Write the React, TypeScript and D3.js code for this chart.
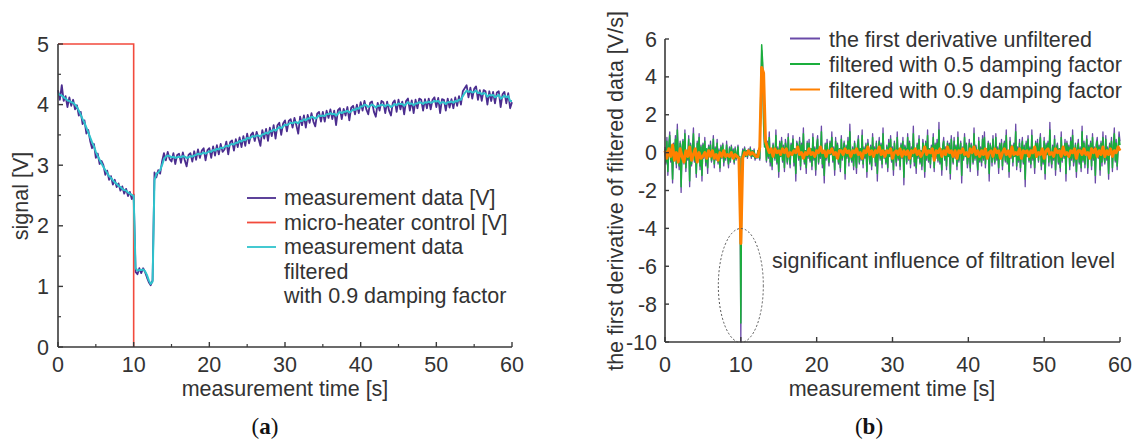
import React from 'react';
import * as d3 from 'd3';

// ---------- DATA ----------
const SIGNAL_STEP = 0.25; // s between samples, panel (a)
const DERIV_STEP_FINE = 0.125; // s between samples, unfiltered / 0.5 damping
const DERIV_STEP = 0.25; // s between samples, 0.9 damping

// panel (a): measurement data [V], one row per second (0..59) + 60 s
const signalRaw = [
  4.24, 4.08, 4.32, 4.06,
  4.14, 3.96, 4.12, 3.98,
  4.08, 3.92, 3.99, 3.82,
  3.88, 3.68, 3.74, 3.52,
  3.58, 3.40, 3.28, 3.35,
  3.12, 3.19, 3.02, 3.07,
  3.00, 2.84, 2.91, 2.76,
  2.82, 2.68, 2.76, 2.64,
  2.70, 2.58, 2.65, 2.53,
  2.61, 2.49, 2.56, 2.44,
  2.52, 1.24, 1.20, 1.30,
  1.22, 1.30, 1.24, 1.15,
  1.07, 1.02, 1.10, 2.88,
  2.80, 2.92, 2.86, 3.06,
  3.20, 3.08, 3.22, 3.10,
  3.06, 3.20, 3.02, 3.17,
  3.19, 3.04, 3.21, 3.08,
  2.98, 3.17, 3.20, 3.06,
  3.23, 3.09, 3.26, 3.12,
  3.24, 3.28, 3.08, 3.25,
  3.28, 3.12, 3.31, 3.16,
  3.33, 3.18, 3.35, 3.22,
  3.26, 3.39, 3.18, 3.38,
  3.41, 3.24, 3.43, 3.30,
  3.46, 3.30, 3.48, 3.32,
  3.52, 3.36, 3.50, 3.54,
  3.40, 3.55, 3.44, 3.32,
  3.58, 3.44, 3.60, 3.40,
  3.62, 3.48, 3.66, 3.44,
  3.66, 3.70, 3.50, 3.69,
  3.74, 3.56, 3.73, 3.76,
  3.62, 3.78, 3.66, 3.52,
  3.80, 3.66, 3.82, 3.62,
  3.83, 3.70, 3.86, 3.72,
  3.64, 3.85, 3.88, 3.72,
  3.88, 3.72, 3.90, 3.78,
  3.92, 3.76, 3.90, 3.66,
  3.91, 3.94, 3.76, 3.93,
  3.82, 3.96, 3.74, 3.95,
  3.98, 3.84, 4.00, 3.86,
  4.04, 3.90, 4.06, 3.92,
  3.84, 4.03, 4.05, 3.88,
  3.80, 4.03, 3.90, 4.06,
  4.04, 3.86, 4.05, 3.90,
  3.82, 4.03, 4.07, 3.88,
  4.08, 3.92, 4.05, 3.84,
  4.06, 4.10, 3.90, 4.07,
  3.86, 4.08, 3.94, 4.10,
  4.08, 3.90, 4.09, 3.94,
  4.10, 3.92, 4.08, 4.12,
  3.96, 4.11, 3.86, 4.09,
  4.08, 3.90, 4.10, 3.95,
  4.09, 3.94, 4.12, 3.98,
  4.14, 4.00, 4.22, 4.27,
  4.32, 4.12, 4.28, 4.10,
  4.26, 4.30, 4.08, 4.24,
  4.06, 4.24, 4.22, 4.00,
  4.22, 4.06, 4.21, 4.02,
  4.20, 4.22, 3.96, 4.17,
  4.21, 4.02, 4.19, 3.94,
  4.04,
];

// panel (a): measurement data filtered with 0.9 damping factor
const signalFiltered = [
  4.18, 4.16, 4.15, 4.12,
  4.10, 4.07, 4.06, 4.04,
  4.03, 4.00, 3.96, 3.90,
  3.83, 3.76, 3.70, 3.62,
  3.54, 3.46, 3.38, 3.31,
  3.22, 3.15, 3.09, 3.03,
  2.97, 2.92, 2.87, 2.82,
  2.79, 2.75, 2.72, 2.69,
  2.66, 2.64, 2.61, 2.59,
  2.58, 2.55, 2.53, 2.51,
  2.49, 1.30, 1.26, 1.27,
  1.27, 1.28, 1.25, 1.19,
  1.10, 1.04, 1.08, 2.75,
  2.86, 2.88, 2.92, 3.00,
  3.10, 3.14, 3.16, 3.15,
  3.13, 3.14, 3.12, 3.13,
  3.14, 3.13, 3.15, 3.14,
  3.12, 3.13, 3.15, 3.14,
  3.16, 3.17, 3.19, 3.18,
  3.19, 3.21, 3.19, 3.21,
  3.23, 3.22, 3.25, 3.24,
  3.27, 3.26, 3.29, 3.28,
  3.30, 3.32, 3.31, 3.34,
  3.35, 3.34, 3.37, 3.37,
  3.40, 3.39, 3.42, 3.41,
  3.45, 3.44, 3.46, 3.48,
  3.47, 3.49, 3.49, 3.47,
  3.51, 3.51, 3.54, 3.52,
  3.56, 3.56, 3.59, 3.57,
  3.60, 3.63, 3.61, 3.64,
  3.67, 3.66, 3.68, 3.70,
  3.69, 3.71, 3.71, 3.69,
  3.73, 3.73, 3.76, 3.74,
  3.77, 3.77, 3.80, 3.79,
  3.77, 3.79, 3.82, 3.81,
  3.82, 3.81, 3.84, 3.84,
  3.86, 3.84, 3.85, 3.82,
  3.85, 3.88, 3.86, 3.88,
  3.88, 3.90, 3.87, 3.89,
  3.92, 3.91, 3.94, 3.93,
  3.97, 3.97, 4.00, 3.99,
  3.96, 3.98, 4.00, 3.98,
  3.95, 3.98, 3.98, 4.00,
  3.99, 3.97, 4.00, 3.99,
  3.96, 3.98, 4.01, 3.99,
  4.02, 4.01, 4.01, 3.98,
  4.01, 4.04, 4.01, 4.02,
  3.99, 4.02, 4.02, 4.04,
  4.03, 4.01, 4.04, 4.03,
  4.05, 4.03, 4.04, 4.06,
  4.05, 4.06, 4.02, 4.04,
  4.04, 4.01, 4.04, 4.04,
  4.05, 4.03, 4.06, 4.05,
  4.08, 4.08, 4.14, 4.19,
  4.23, 4.21, 4.22, 4.20,
  4.21, 4.23, 4.19, 4.20,
  4.17, 4.19, 4.18, 4.13,
  4.16, 4.15, 4.16, 4.12,
  4.14, 4.16, 4.10, 4.12,
  4.15, 4.12, 4.14, 4.06,
  4.06,
];

// panel (a): micro-heater control [V]
const heaterTime = [0, 10, 10];
const heaterValue = [5, 5, 0];

// panel (b): first derivative unfiltered [V/s], 8 samples per second
const derivUnfiltered = [
  0.3, -0.6, 0.8, -1.2, 0.4, 1.1, -0.5, 0.2,
  -1.6, 0.5, -0.3, 0.9, -0.8, 1.5, -0.2, -0.9,
  0.6, -2.1, 0.3, 0.7, -0.6, 1.2, -1.0, 0.1,
  -0.4, 0.9, -1.8, 0.5, -0.7, 0.3, 1.3, -0.5,
  0.2, -1.3, 0.6, -0.4, 1.0, -0.9, 0.4, -1.5,
  0.5, -0.3, 0.8, -0.7, 0.2, -1.1, 0.4, -0.2,
  0.6, -0.5, -0.2, 0.9, -0.8, 0.3, -0.4, 0.7,
  -0.6, 0.2, -1.0, 0.4, -0.3, 0.5, -0.7, 0.1,
  -0.4, 0.6, -0.2, -0.8, 0.3, -0.5, 0.4, -0.3,
  0.2, -0.6, 0.3, -0.4, -0.1, 0.4, -0.7, -0.3,
  -10, -0.4, 0.2, -0.1, 0.3, -0.2, 0.1, -0.3,
  0.2, -0.1, 0.3, -0.3, 0.1, -0.2, 0.2, -0.4,
  -0.1, -0.3, 0.1, -0.2, -0.4, 2.6, 5.4, 4.6,
  1.8, 0.4, 0.9, -0.5, 0.6, -0.3, 1.1, -0.7,
  0.2, -0.9, 0.5, 0.1, -0.4, 1.2, -0.6, 0.3,
  -1.3, 0.6, -0.2, 0.8, -0.5, 0.4, -1.0, 0.7,
  0.3, -0.6, 1.0, -0.3, -0.8, 0.5, -0.1, 0.9,
  -0.7, 0.2, -1.5, 0.6, 0.4, -0.4, 0.8, -0.9,
  0.5, -0.2, 1.3, -0.6, 0.1, -1.1, 0.6, -0.3,
  0.7, -0.5, 0.2, -0.9, 1.0, -0.4, 0.3, -1.2,
  0.4, 0.9, -0.6, 0.2, -0.3, 1.4, -0.8, 0.1,
  -1.6, 0.5, -0.4, 0.7, -0.2, -0.7, 0.6, -0.1,
  1.1, -0.5, 0.3, -1.2, 0.8, -0.3, 0.5, -0.6,
  0.2, -1.0, 0.9, -0.4, 0.1, 0.6, -1.4, 0.4,
  -0.3, 0.8, -0.7, 1.5, -0.2, -0.5, 0.3, -0.9,
  0.6, -0.2, -1.1, 0.4, 0.9, -0.6, 0.2, -0.4,
  1.2, -0.8, 0.3, -0.3, 0.5, -1.3, 0.7, 0.1,
  -0.6, 0.4, -0.9, 1.0, -0.2, 0.3, -0.7, 0.6,
  -1.5, 0.2, 0.8, -0.4, 0.5, -0.8, 1.3, -0.3,
  0.1, -0.6, 0.4, -1.0, 0.7, -0.2, 0.9, -0.5,
  0.3, -1.2, 0.6, -0.1, -0.7, 1.1, -0.4, 0.2,
  -0.9, 0.5, -0.3, 0.8, -1.7, 0.4, 0.2, -0.6,
  1.0, -0.4, 0.6, -0.8, 0.3, -0.2, 1.4, -0.7,
  0.2, -1.1, 0.5, -0.3, 0.9, -0.6, 0.1, -0.9,
  0.7, 0.3, -1.3, 0.6, -0.4, 1.2, -0.5, 0.2,
  -0.8, 0.4, -0.2, 1.0, -1.0, 0.5, -0.3, 0.7,
  -0.5, 1.6, -0.6, 0.2, -1.2, 0.4, 0.8, -0.4,
  0.3, -0.9, 0.6, -0.2, 0.5, -1.4, 0.9, -0.1,
  -0.6, 0.8, -0.3, 0.4, -0.9, 1.1, -0.5, 0.2,
  0.6, -1.6, 0.3, -0.4, 1.0, -0.2, 0.5, -0.8,
  -0.3, 0.7, -1.0, 0.5, 0.2, -0.6, 1.3, -0.4,
  0.4, -0.2, -1.2, 0.8, -0.5, 0.3, -0.7, 0.9,
  -0.4, 1.1, -0.8, 0.2, -0.3, 0.6, -1.5, 0.5,
  0.2, -0.7, 0.9, -0.2, -0.6, 1.0, -0.4, 0.3,
  -1.1, 0.5, -0.2, 0.7, -0.9, 0.3, 0.6, -0.5,
  1.2, -0.6, 0.1, -1.3, 0.8, -0.3, 0.4, -0.7,
  0.5, -0.2, 1.5, -0.9, 0.3, -0.5, 0.7, -1.0,
  0.2, 0.8, -0.6, 0.4, -1.8, 0.6, -0.2, 0.9,
  -0.5, 0.3, -0.8, 1.2, -0.4, 0.1, -1.1, 0.6,
  -0.2, 0.7, -0.5, 0.4, 1.0, -0.9, 0.2, -0.6,
  0.8, -1.4, 0.5, -0.1, 0.6, -0.7, 1.6, -0.3,
  -0.8, 0.4, -0.4, 0.9, -1.2, 0.3, 0.5, -0.6,
  0.2, -1.0, 1.1, -0.5, 0.3, -0.3, 0.7, -1.5,
  0.6, -0.2, 0.4, -0.9, 0.8, -0.4, 1.2, -0.7,
  -0.3, 0.5, -1.3, 0.2, 0.7, -0.6, 0.3, -1.0,
  1.4, -0.5, 0.6, -0.8, 0.2, 0.9, -1.1, 0.4,
  -0.2, 0.6, -0.9, 1.0, -0.4, 0.3, -1.6, 0.5,
  0.8, -0.3, 0.4, -1.2, 0.6, -0.7, 1.1, -0.2,
  -0.6, 0.9, -0.4, 0.3, -1.4, 0.5, -0.1, 0.8,
  -1.0, 0.4, 1.3, -0.5, 0.7, -0.9, 0.2, 1.1,
  0.6,
];

// panel (b): filtered with 0.5 damping factor [V/s], 8 samples per second
const derivDamp05 = [
  0.2, -0.5, 0.6, -1.0, 0.3, 0.9, -0.4, 0.2,
  -1.4, 0.4, -0.2, 0.7, -0.6, 1.2, -0.2, -0.7,
  0.5, -1.8, 0.2, 0.6, -0.5, 1.0, -0.8, 0.1,
  -0.3, 0.7, -1.5, 0.4, -0.6, 0.2, 1.0, -0.4,
  0.2, -1.1, 0.5, -0.3, 0.8, -0.7, 0.3, -1.2,
  0.4, -0.2, 0.6, -0.5, 0.2, -0.8, 0.3, -0.2,
  0.4, -0.4, -0.2, 0.7, -0.6, 0.2, -0.3, 0.5,
  -0.5, 0.1, -0.8, 0.3, -0.2, 0.4, -0.5, 0.1,
  -0.3, 0.4, -0.2, -0.6, 0.2, -0.4, 0.3, -0.2,
  0.1, -0.5, 0.2, -0.3, -0.1, 0.3, -0.5, -0.2,
  -9.0, -0.3, 0.1, -0.1, 0.2, -0.2, 0.1, -0.2,
  0.1, -0.1, 0.2, -0.2, 0.1, -0.2, 0.1, -0.3,
  -0.1, -0.2, 0.1, -0.2, -0.3, 3.0, 5.7, 4.8,
  1.5, 0.3, 0.7, -0.4, 0.5, -0.2, 0.8, -0.5,
  0.2, -0.7, 0.4, 0.1, -0.3, 0.9, -0.5, 0.2,
  -1.0, 0.5, -0.2, 0.6, -0.4, 0.3, -0.8, 0.5,
  0.2, -0.5, 0.8, -0.2, -0.6, 0.4, -0.1, 0.7,
  -0.5, 0.2, -1.1, 0.5, 0.3, -0.3, 0.6, -0.7,
  0.4, -0.2, 1.0, -0.5, 0.1, -0.8, 0.5, -0.2,
  0.5, -0.4, 0.2, -0.7, 0.8, -0.3, 0.2, -0.9,
  0.3, 0.7, -0.5, 0.2, -0.2, 1.1, -0.6, 0.1,
  -1.2, 0.4, -0.3, 0.5, -0.2, -0.5, 0.5, -0.1,
  0.8, -0.4, 0.2, -0.9, 0.6, -0.2, 0.4, -0.5,
  0.2, -0.8, 0.7, -0.3, 0.1, 0.5, -1.1, 0.3,
  -0.2, 0.6, -0.5, 1.1, -0.2, -0.4, 0.2, -0.7,
  0.5, -0.2, -0.8, 0.3, 0.7, -0.5, 0.2, -0.3,
  0.9, -0.6, 0.2, -0.2, 0.4, -1.0, 0.5, 0.1,
  -0.5, 0.3, -0.7, 0.8, -0.2, 0.2, -0.5, 0.5,
  -1.1, 0.2, 0.6, -0.3, 0.4, -0.6, 1.0, -0.2,
  0.1, -0.5, 0.3, -0.8, 0.5, -0.2, 0.7, -0.4,
  0.2, -0.9, 0.5, -0.1, -0.5, 0.8, -0.3, 0.2,
  -0.7, 0.4, -0.2, 0.6, -1.3, 0.3, 0.2, -0.5,
  0.8, -0.3, 0.5, -0.6, 0.2, -0.2, 1.0, -0.5,
  0.2, -0.8, 0.4, -0.2, 0.7, -0.5, 0.1, -0.7,
  0.5, 0.2, -1.0, 0.5, -0.3, 0.9, -0.4, 0.2,
  -0.6, 0.3, -0.2, 0.8, -0.8, 0.4, -0.2, 0.5,
  -0.4, 1.2, -0.5, 0.2, -0.9, 0.3, 0.6, -0.3,
  0.2, -0.7, 0.5, -0.2, 0.4, -1.1, 0.7, -0.1,
  -0.5, 0.6, -0.2, 0.3, -0.7, 0.8, -0.4, 0.2,
  0.5, -1.2, 0.2, -0.3, 0.8, -0.2, 0.4, -0.6,
  -0.2, 0.5, -0.8, 0.4, 0.2, -0.5, 1.0, -0.3,
  0.3, -0.2, -0.9, 0.6, -0.4, 0.2, -0.5, 0.7,
  -0.3, 0.8, -0.6, 0.2, -0.2, 0.5, -1.1, 0.4,
  0.2, -0.5, 0.7, -0.2, -0.5, 0.8, -0.3, 0.2,
  -0.8, 0.4, -0.2, 0.5, -0.7, 0.2, 0.5, -0.4,
  0.9, -0.5, 0.1, -1.0, 0.6, -0.2, 0.3, -0.5,
  0.4, -0.2, 1.1, -0.7, 0.2, -0.4, 0.5, -0.8,
  0.2, 0.6, -0.5, 0.3, -1.4, 0.5, -0.2, 0.7,
  -0.4, 0.2, -0.6, 0.9, -0.3, 0.1, -0.8, 0.5,
  -0.2, 0.5, -0.4, 0.3, 0.8, -0.7, 0.2, -0.5,
  0.6, -1.1, 0.4, -0.1, 0.5, -0.5, 1.2, -0.2,
  -0.6, 0.3, -0.3, 0.7, -0.9, 0.2, 0.4, -0.5,
  0.2, -0.8, 0.8, -0.4, 0.2, -0.2, 0.5, -1.1,
  0.5, -0.2, 0.3, -0.7, 0.6, -0.3, 0.9, -0.5,
  -0.2, 0.4, -1.0, 0.2, 0.5, -0.5, 0.2, -0.8,
  1.1, -0.4, 0.5, -0.6, 0.2, 0.7, -0.8, 0.3,
  -0.2, 0.5, -0.7, 0.8, -0.3, 0.2, -1.2, 0.4,
  0.6, -0.2, 0.3, -0.9, 0.5, -0.5, 0.8, -0.2,
  -0.5, 0.7, -0.3, 0.2, -1.1, 0.4, -0.1, 0.6,
  -0.8, 0.3, 1.0, -0.4, 0.5, -0.7, 0.2, 0.8,
  0.4,
];

// panel (b): filtered with 0.9 damping factor [V/s], 4 samples per second
const derivDamp09 = [
  0.1, -0.3, 0.2, -0.2, 0.4, -0.4, 0.0, -0.5, 0.2, -0.2,
  -0.5, 0.1, -0.2, 0.3, -0.4, -0.1, 0.2, -0.5, 0.0, -0.3,
  -0.2, 0.0, -0.3, 0.1, -0.2, 0.1, -0.3, -0.1, -0.4, 0.0,
  -0.2, 0.1, -0.2, -0.1, -0.2, 0.0, -0.3, -0.1, -0.2, -0.3,
  -4.8,
  -0.3, 0.0, -0.1, 0.1, -0.1, 0.0, -0.1, -0.2, -0.2,
  0.3, 4.5, 4.2,
  0.6, 0.3, 0.0, 0.2, -0.2, 0.2, 0.0, 0.1, -0.1, 0.2,
  0.0, 0.2, -0.2, 0.0, -0.1, 0.1, 0.0, 0.3, -0.1, 0.0,
  -0.3, 0.0, -0.1, 0.2, -0.1, 0.0, -0.2, 0.1, 0.0, 0.3,
  0.0, 0.1, -0.2, 0.1, 0.0, 0.2, -0.1, 0.0, -0.3, 0.1,
  0.1, -0.1, 0.2, 0.0, 0.1, -0.2, 0.1, 0.0, 0.2, -0.1,
  0.0, -0.3, 0.1, 0.0, 0.3, -0.1, 0.1, -0.2, 0.1, 0.0,
  0.3, -0.1, 0.1, -0.2, 0.1, 0.0, 0.2, -0.3, 0.0, 0.1,
  -0.1, 0.2, -0.2, 0.1, -0.1, 0.1, -0.3, 0.1, 0.0, 0.2,
  -0.1, 0.1, -0.2, 0.0, 0.3, -0.1, 0.1, 0.0, 0.2, -0.4,
  0.1, 0.0, 0.2, -0.2, 0.1, -0.1, 0.3, 0.0, 0.1, -0.2,
  0.1, -0.3, 0.1, 0.0, 0.2, -0.1, 0.0, -0.2, 0.2, 0.0,
  0.3, -0.1, 0.1, -0.2, 0.1, -0.1, 0.2, -0.3, 0.0, 0.1,
  -0.2, 0.2, 0.0, 0.1, -0.3, 0.0, 0.2, -0.1, 0.1, -0.2,
  0.3, -0.1, 0.0, -0.1, 0.2, -0.3, 0.1, 0.0, 0.1, -0.2,
  0.1, 0.0, 0.3, -0.2, 0.0, -0.1, 0.2, -0.3, 0.1, 0.2,
  -0.1, 0.0, -0.2, 0.2, 0.0, 0.1, -0.2, 0.3, -0.1, 0.0,
  -0.2, 0.1, 0.0, 0.2, -0.3, 0.1, 0.1, -0.1, 0.2, -0.1,
  0.0, -0.3, 0.2, 0.0, 0.2, -0.2, 0.1, -0.1, 0.3, -0.2,
  0.1, -0.1, 0.2, -0.2, 0.1, 0.0, 0.3, 0.1,
];

// ticks & labels
const xTicks = [0, 10, 20, 30, 40, 50, 60];
const xMinorA = [5, 15, 25, 35, 45, 55];
const yTicksA = [0, 1, 2, 3, 4, 5];
const yMinorA = [0.5, 1.5, 2.5, 3.5, 4.5];
const yTicksB = [-10, -8, -6, -4, -2, 0, 2, 4, 6];

const legendA = [
  { label: 'measurement data [V]', color: '#4b2d8f' },
  { label: 'micro-heater control [V]', color: '#f24a3c' },
  { label: 'measurement data', color: '#2fc3cc' },
];
const legendAExtra = ['filtered', 'with 0.9 damping factor'];
const legendB = [
  { label: 'the first derivative unfiltered', color: '#6a4aa8' },
  { label: 'filtered with 0.5 damping factor', color: '#1aae3c' },
  { label: 'filtered with 0.9 damping factor', color: '#ff8000' },
];

const FONT = '"Liberation Sans", Arial, sans-serif';
const TEXT = '#333333';
const AXIS = '#3a3a3a';

export default function App() {
  // panel (a) scales
  const xA = d3.scaleLinear().domain([0, 60]).range([58, 512]);
  const yA = d3.scaleLinear().domain([0, 5]).range([347, 44]);
  // panel (b) scales
  const xB = d3.scaleLinear().domain([0, 60]).range([665, 1120]);
  const yB = d3.scaleLinear().domain([-10, 6]).range([342, 39]);

  const lineA = d3
    .line<number>()
    .x((_, i) => xA(i * SIGNAL_STEP))
    .y((d) => yA(d));
  const lineBFine = d3
    .line<number>()
    .x((_, i) => xB(i * DERIV_STEP_FINE))
    .y((d) => yB(d));
  const lineB = d3
    .line<number>()
    .x((_, i) => xB(i * DERIV_STEP))
    .y((d) => yB(d));
  const heaterLine = d3
    .line<number>()
    .x((_, i) => xA(heaterTime[i]))
    .y((d) => yA(d));

  const fs = 21.5;
  const tickBase = 372;
  const titleBase = 396;

  return (
    <svg
      width={1134}
      height={440}
      style={{ position: 'absolute', left: 0, top: 0, background: '#fff' }}
      fontFamily={FONT}
    >
      <rect x={0} y={0} width={1134} height={440} fill="#fff" />

      {/* ===== Panel (a) ===== */}
      <g>
        <path d={lineA(signalRaw) || ''} fill="none" stroke="#4b2d8f" strokeWidth={1.8} strokeLinejoin="round" />
        <path d={heaterLine(heaterValue) || ''} fill="none" stroke="#f24a3c" strokeWidth={1.6} />
        <path d={lineA(signalFiltered) || ''} fill="none" stroke="#2fc3cc" strokeWidth={2} strokeLinejoin="round" />

        {/* axes */}
        <line x1={xA(0)} x2={xA(0)} y1={yA(5)} y2={yA(0)} stroke={AXIS} strokeWidth={1.6} />
        <line x1={xA(0)} x2={xA(60)} y1={yA(0)} y2={yA(0)} stroke={AXIS} strokeWidth={1.6} />
        {yTicksA.map((t) => (
          <g key={'ya' + t}>
            <line x1={xA(0)} x2={xA(0) + 5} y1={yA(t)} y2={yA(t)} stroke={AXIS} strokeWidth={1.4} />
            <text x={xA(0) - 9} y={yA(t) + 7.5} textAnchor="end" fontSize={fs} fill={TEXT}>
              {t}
            </text>
          </g>
        ))}
        {yMinorA.map((t) => (
          <line key={'yam' + t} x1={xA(0)} x2={xA(0) + 3} y1={yA(t)} y2={yA(t)} stroke={AXIS} strokeWidth={1.2} />
        ))}
        {xTicks.map((t) => (
          <g key={'xa' + t}>
            <line x1={xA(t)} x2={xA(t)} y1={yA(0)} y2={yA(0) - 5} stroke={AXIS} strokeWidth={1.4} />
            <text x={xA(t)} y={tickBase} textAnchor="middle" fontSize={fs} fill={TEXT}>
              {t}
            </text>
          </g>
        ))}
        {xMinorA.map((t) => (
          <line key={'xam' + t} x1={xA(t)} x2={xA(t)} y1={yA(0)} y2={yA(0) - 3} stroke={AXIS} strokeWidth={1.2} />
        ))}
        <text x={285} y={titleBase} textAnchor="middle" fontSize={fs} fill={TEXT}>
          measurement time [s]
        </text>
        <text transform="translate(28,196) rotate(-90)" textAnchor="middle" fontSize={fs} fill={TEXT}>
          signal [V]
        </text>

        {/* legend */}
        {legendA.map((l, i) => (
          <g key={'la' + i}>
            <line x1={247} x2={276} y1={198 + i * 24.5} y2={198 + i * 24.5} stroke={l.color} strokeWidth={1.8} />
            <text x={284} y={205 + i * 24.5} fontSize={fs} fill={TEXT}>
              {l.label}
            </text>
          </g>
        ))}
        {legendAExtra.map((s, i) => (
          <text key={'lax' + i} x={284} y={205 + (i + 3) * 24.5} fontSize={fs} fill={TEXT}>
            {s}
          </text>
        ))}

        <text x={265} y={434} textAnchor="middle" fontSize={23} fill="#111" fontFamily='"Liberation Serif", "Times New Roman", serif'>
          (<tspan fontWeight="bold">a</tspan>)
        </text>
      </g>

      {/* ===== Panel (b) ===== */}
      <g>
        <path d={lineBFine(derivUnfiltered) || ''} fill="none" stroke="#6a4aa8" strokeWidth={1.3} strokeLinejoin="round" />
        <path d={lineBFine(derivDamp05) || ''} fill="none" stroke="#1aae3c" strokeWidth={1.5} strokeLinejoin="round" />
        <path d={lineB(derivDamp09) || ''} fill="none" stroke="#ff8000" strokeWidth={3} strokeLinejoin="round" />

        <line x1={xB(0)} x2={xB(0)} y1={yB(6)} y2={yB(-10)} stroke={AXIS} strokeWidth={1.6} />
        <line x1={xB(0)} x2={xB(60)} y1={yB(-10)} y2={yB(-10)} stroke={AXIS} strokeWidth={1.6} />
        {yTicksB.map((t) => (
          <g key={'yb' + t}>
            <line x1={xB(0)} x2={xB(0) + 4} y1={yB(t)} y2={yB(t)} stroke={AXIS} strokeWidth={1.4} />
            <text x={xB(0) - 8} y={yB(t) + 7.5} textAnchor="end" fontSize={fs} fill={TEXT}>
              {t}
            </text>
          </g>
        ))}
        {xTicks.map((t) => (
          <g key={'xb' + t}>
            <line x1={xB(t)} x2={xB(t)} y1={yB(-10)} y2={yB(-10) - 5} stroke={AXIS} strokeWidth={1.4} />
            <text x={xB(t)} y={tickBase} textAnchor="middle" fontSize={fs} fill={TEXT}>
              {t}
            </text>
          </g>
        ))}
        <text x={892} y={titleBase} textAnchor="middle" fontSize={fs} fill={TEXT}>
          measurement time [s]
        </text>
        <text transform="translate(623,191) rotate(-90)" textAnchor="middle" fontSize={fs} fill={TEXT}>
          the first derivative of filtered data [V/s]
        </text>

        {legendB.map((l, i) => (
          <g key={'lb' + i}>
            <line x1={790} x2={820} y1={38.5 + i * 25.5} y2={38.5 + i * 25.5} stroke={l.color} strokeWidth={2} />
            <text x={829} y={46.5 + i * 25.5} fontSize={fs} fill={TEXT}>
              {l.label}
            </text>
          </g>
        ))}

        <ellipse
          cx={xB(10)}
          cy={285.5}
          rx={22.5}
          ry={57}
          fill="none"
          stroke="#555"
          strokeWidth={1}
          strokeDasharray="2,2"
        />
        <text x={772} y={268} fontSize={fs} fill={TEXT}>
          significant influence of filtration level
        </text>

        <text x={869} y={434} textAnchor="middle" fontSize={23} fill="#111" fontFamily='"Liberation Serif", "Times New Roman", serif'>
          (<tspan fontWeight="bold">b</tspan>)
        </text>
      </g>
    </svg>
  );
}
